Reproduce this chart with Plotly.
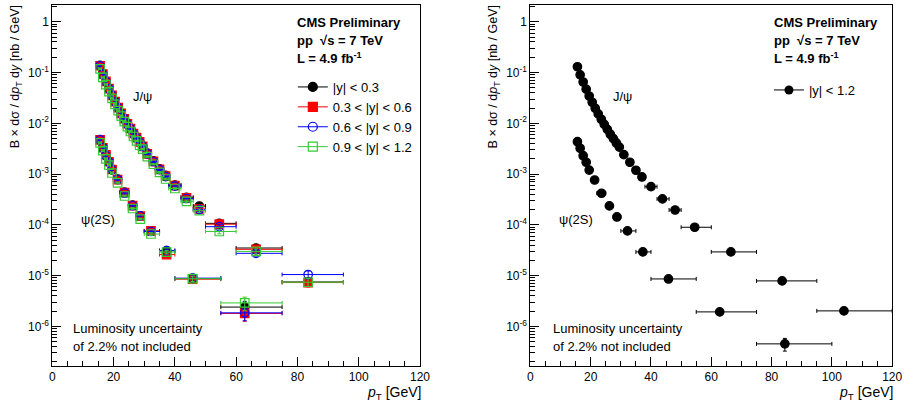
import plotly.graph_objects as go

W, H = 915, 405

# ---------------- data ----------------
# J/psi pT bins (GeV)
jpsi_lo = [15, 16, 17, 18, 19, 20, 21, 22, 23, 24, 25, 26, 27, 28, 29, 30, 32, 34, 36, 38, 42, 46, 50, 60, 75, 95]
jpsi_hi = [16, 17, 18, 19, 20, 21, 22, 23, 24, 25, 26, 27, 28, 29, 30, 32, 34, 36, 38, 42, 46, 50, 60, 75, 95, 120]
jpsi_pt = [15.6, 16.5, 17.5, 18.5, 19.5, 20.5, 21.5, 22.5, 23.5, 24.5, 25.5, 26.5, 27.5, 28.5, 29.5,
           31.0, 33.0, 35.0, 37.0, 40.0, 43.8, 48.0, 54.5, 66.5, 83.5, 104.0]

# psi(2S) pT bins (GeV)
psi_lo = [15, 16, 17, 18, 19, 20, 22, 25, 27.5, 30, 35, 40, 55, 75]
psi_hi = [16, 17, 18, 19, 20, 22, 25, 27.5, 30, 35, 40, 55, 75, 100]
psi_pt = [15.6, 16.5, 17.5, 18.5, 19.5, 21.3, 23.6, 26.2, 28.7, 32.2, 37.3, 45.8, 62.8, 84.4]

# Right panel: |y| < 1.2
jpsi_all = [0.130, 0.090, 0.065, 0.047, 0.0345, 0.026, 0.0198, 0.0153, 0.0120, 0.0095, 0.0076, 0.0061,
            0.0050, 0.0041, 0.0034, 0.00241, 0.00171, 0.00119, 0.000877, 0.000565, 0.000324, 0.000196,
            8.97e-5, 2.93e-5, 7.87e-6, 2.02e-6]
psi_all = [0.00434, 0.00322, 0.00230, 0.00171, 0.00120, 0.000765, 0.000419, 0.000236, 0.000143,
           7.59e-5, 2.93e-5, 8.6e-6, 1.93e-6, 4.53e-7]
jpsi_all_rel = [0.02] * 15 + [0.02, 0.02, 0.03, 0.03, 0.03, 0.04, 0.05, 0.06, 0.08, 0.10, 0.15]
psi_all_rel = [0.03] * 9 + [0.04, 0.05, 0.08, 0.12, 0.28]

# Left panel: four rapidity bins
rap_labels = ["|y| < 0.3", "0.3 < |y| < 0.6", "0.6 < |y| < 0.9", "0.9 < |y| < 1.2"]
jpsi_y1 = [0.138, 0.094, 0.068, 0.049, 0.036, 0.0272, 0.0206, 0.0159, 0.0125, 0.0099, 0.0080, 0.0064, 0.0053,
           0.0044, 0.0036, 0.0026, 0.00182, 0.00127, 0.00094, 0.00061, 0.00035, 0.000235, 0.000107, 3.5e-5, 7.5e-6]
jpsi_y2 = [0.136, 0.093, 0.067, 0.048, 0.0355, 0.0268, 0.0203, 0.0157, 0.0123, 0.0098, 0.0079, 0.0063, 0.0052,
           0.0043, 0.0035, 0.0025, 0.00178, 0.00124, 0.00091, 0.00059, 0.00034, 0.000205, 0.000103, 3.3e-5, 7.3e-6]
jpsi_y3 = [0.135, 0.092, 0.066, 0.048, 0.035, 0.0265, 0.0201, 0.0155, 0.0122, 0.0096, 0.0078, 0.0062, 0.0051,
           0.0042, 0.0035, 0.0025, 0.00175, 0.00122, 0.00089, 0.00058, 0.00033, 0.000200, 9.2e-5, 2.75e-5, 1.05e-5]
jpsi_y4 = [0.118, 0.080, 0.058, 0.042, 0.031, 0.0235, 0.0178, 0.0138, 0.0108, 0.0086, 0.0069, 0.0055, 0.0045,
           0.0037, 0.0031, 0.0022, 0.00156, 0.00108, 0.00080, 0.00052, 0.00029, 0.000190, 7.4e-5, 3.0e-5, 7.4e-6]
psi_y1 = [0.0048, 0.0034, 0.0024, 0.00178, 0.00125, 0.00080, 0.00044, 0.000245, 0.000150, 7.5e-5, 3.1e-5, 8.8e-6, 2.4e-6]
psi_y2 = [0.0047, 0.0033, 0.0024, 0.00175, 0.00123, 0.00078, 0.00043, 0.000240, 0.000148, 7.6e-5, 2.6e-5, 8.5e-6, 1.8e-6]
psi_y3 = [0.0047, 0.0033, 0.0023, 0.00172, 0.00121, 0.00078, 0.00042, 0.000238, 0.000150, 7.4e-5, 3.1e-5, 8.9e-6, 1.85e-6]
psi_y4 = [0.0041, 0.0029, 0.0020, 0.00150, 0.00105, 0.00067, 0.00037, 0.000210, 0.000130, 6.6e-5, 2.9e-5, 8.7e-6, 2.9e-6]
jpsi_rel_left = [0.03] * 15 + [0.03, 0.03, 0.04, 0.04, 0.05, 0.06, 0.08, 0.10, 0.12, 0.18]
psi_rel_left = [0.04] * 9 + [0.06, 0.08, 0.12, 0.30]

rap_colors = ["#000000", "#ff0000", "#0000ff", "#33cc33"]
rap_symbols = ["circle", "square", "circle-open", "square-open"]

FONT = "Liberation Sans, Arial, Helvetica, sans-serif"

fig = go.Figure()


def add_series(xa, ya, pts, lo, hi, vals, rel, color, symbol, size=9):
    n = len(vals)
    xs = pts[:n]
    fig.add_trace(go.Scatter(
        x=xs, y=vals, mode="markers", xaxis=xa, yaxis=ya, showlegend=False,
        marker=dict(symbol=symbol, size=size, color=color,
                    line=dict(color=color, width=1.2)),
        error_x=dict(type="data", symmetric=False,
                     array=[h - x for h, x in zip(hi[:n], xs)],
                     arrayminus=[x - l for x, l in zip(xs, lo[:n])],
                     color=color, thickness=1, width=2),
        error_y=dict(type="data", symmetric=False,
                     array=[v * r for v, r in zip(vals, rel[:n])],
                     arrayminus=[v * r for v, r in zip(vals, rel[:n])],
                     color=color, thickness=1, width=2),
        cliponaxis=True,
    ))


jpsi_left = [jpsi_y1, jpsi_y2, jpsi_y3, jpsi_y4]
psi_left = [psi_y1, psi_y2, psi_y3, psi_y4]
for i in range(4):
    add_series("x", "y", jpsi_pt, jpsi_lo, jpsi_hi, jpsi_left[i], jpsi_rel_left, rap_colors[i], rap_symbols[i], 8.5)
    add_series("x", "y", psi_pt, psi_lo, psi_hi, psi_left[i], psi_rel_left, rap_colors[i], rap_symbols[i], 8.5)
for i in range(4):
    fig.add_trace(go.Scatter(
        x=[None], y=[None], mode="lines+markers", xaxis="x", yaxis="y",
        name=rap_labels[i], legend="legend",
        marker=dict(symbol=rap_symbols[i], size=9, color=rap_colors[i], line=dict(color=rap_colors[i], width=1.2)),
        line=dict(color=rap_colors[i], width=1)))

add_series("x2", "y2", jpsi_pt, jpsi_lo, jpsi_hi, jpsi_all, jpsi_all_rel, "#000000", "circle", 8.5)
add_series("x2", "y2", psi_pt, psi_lo, psi_hi, psi_all, psi_all_rel, "#000000", "circle", 8.5)
fig.add_trace(go.Scatter(
    x=[None], y=[None], mode="lines+markers", xaxis="x2", yaxis="y2",
    name="|y| < 1.2", legend="legend2",
    marker=dict(symbol="circle", size=9, color="#000000"),
    line=dict(color="#000000", width=1)))

# ---------------- axes ----------------
ytickvals = [1e-6, 1e-5, 1e-4, 1e-3, 1e-2, 1e-1, 1]
yticktext = ["10<sup>-6</sup>", "10<sup>-5</sup>", "10<sup>-4</sup>", "10<sup>-3</sup>",
             "10<sup>-2</sup>", "10<sup>-1</sup>", "1"]
yminor = [k * 10.0 ** e for e in range(-7, 1) for k in range(2, 10)]


def xaxis_cfg(domain):
    return dict(domain=domain, range=[0, 120], tickvals=[0, 20, 40, 60, 80, 100, 120],
                ticks="inside", ticklen=9, tickcolor="black", tickwidth=1,
                minor=dict(tickvals=list(range(5, 120, 5)), ticks="inside", ticklen=5,
                           tickcolor="black", tickwidth=1, showgrid=False),
                showline=True, linecolor="black", linewidth=1, mirror=True,
                showgrid=False, zeroline=False,
                tickfont=dict(family=FONT, size=12, color="black"))


def yaxis_cfg(domain, anchor):
    return dict(domain=domain, type="log", range=[-6.78, 0.33], anchor=anchor,
                tickvals=ytickvals, ticktext=yticktext,
                ticks="inside", ticklen=9, tickcolor="black", tickwidth=1,
                minor=dict(tickvals=yminor, ticks="inside", ticklen=5,
                           tickcolor="black", tickwidth=1, showgrid=False),
                showline=True, linecolor="black", linewidth=1, mirror=True,
                showgrid=False, zeroline=False,
                tickfont=dict(family=FONT, size=12, color="black"))


ydom = [1 - 366 / H, 1 - 5 / H]
fig.update_layout(
    width=W, height=H, margin=dict(l=0, r=0, t=0, b=0),
    paper_bgcolor="white", plot_bgcolor="white",
    font=dict(family=FONT, size=13, color="black"),
    xaxis=dict(xaxis_cfg([50 / W, 423 / W]), anchor="y"),
    yaxis=yaxis_cfg(ydom, "x"),
    xaxis2=dict(xaxis_cfg([535 / W, 902 / W]), anchor="y2"),
    yaxis2=yaxis_cfg(ydom, "x2"),
    legend=dict(x=294 / W, y=1 - 72 / H, xanchor="left", yanchor="top",
                bgcolor="rgba(0,0,0,0)", font=dict(family=FONT, size=13), tracegroupgap=0,
                itemwidth=30),
    legend2=dict(x=777 / W, y=1 - 75 / H, xanchor="left", yanchor="top",
                 bgcolor="rgba(0,0,0,0)", font=dict(family=FONT, size=13), itemwidth=30),
)


def ann(x, y, text, size=13, xanchor="left", yanchor="middle", angle=0, bold=False):
    if bold:
        text = "<b>" + text + "</b>"
    fig.add_annotation(x=x / W, y=1 - y / H, xref="paper", yref="paper", text=text,
                       showarrow=False, xanchor=xanchor, yanchor=yanchor, textangle=angle,
                       font=dict(family=FONT, size=size, color="black"))


ytitle = "B × dσ / d<i>p</i><sub>T</sub> d<i>y</i> [nb / GeV]"
xtitle = "<i>p</i><sub>T</sub> [GeV]"
for (x0, x1, cms_x, jx, px_, lumx) in [(50, 423, 296, 130, 77, 69), (535, 902, 780, 617, 562, 556)]:
    ann(x0 - 37, 3, ytitle, size=12.5, xanchor="center", yanchor="top", angle=-90)
    ann(x1 + 3, 393, xtitle, size=14, xanchor="right")
    ann(cms_x, 22, "CMS Preliminary", bold=True)
    ann(cms_x, 40, "pp  √s = 7 TeV", bold=True)
    ann(cms_x, 58, "L = 4.9 fb<sup>-1</sup>", bold=True)
    ann(jx, 97, "J/ψ")
    ann(px_, 219, "ψ(2S)")
    ann(lumx, 328, "Luminosity uncertainty")
    ann(lumx, 346, "of 2.2% not included")

fig.write_html("out.html")
